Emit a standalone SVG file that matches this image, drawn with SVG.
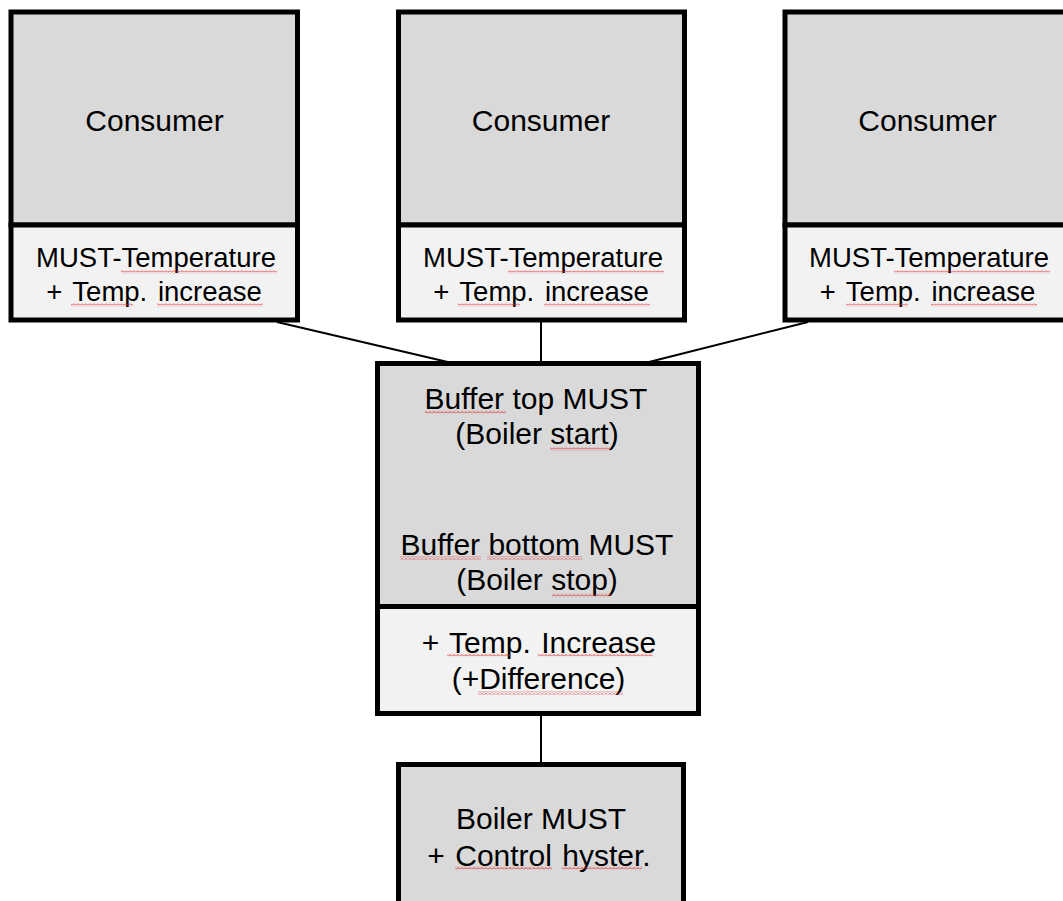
<svg xmlns="http://www.w3.org/2000/svg" width="1063" height="901" viewBox="0 0 1063 901">
<defs>
<pattern id="sq" x="0" y="0" width="4" height="3" patternUnits="userSpaceOnUse">
<polyline points="0,2.5 2,0.5 4,2.5" fill="none" stroke="#e02020" stroke-width="0.9"/>
</pattern>
<style>
.box{stroke:#000;stroke-width:5;stroke-linejoin:miter}
.top{fill:#d9d9d9}
.bot{fill:#f2f2f2}
.t{font-family:"Liberation Sans",Arial,sans-serif;fill:#000;text-anchor:middle}
.big{font-size:30px}
.sm{font-size:27.5px}
.ws{word-spacing:3px}
.con{stroke:#000;stroke-width:2;fill:none}
.s{fill:url(#sq)}
</style>
</defs>
<rect width="1063" height="901" fill="#fff"/>
<g id="connectors">
<line class="con" x1="277" y1="322" x2="452" y2="363"/>
<line class="con" x1="541" y1="322" x2="541" y2="363"/>
<line class="con" x1="808" y1="322" x2="645" y2="363"/>
<line class="con" x1="541" y1="714" x2="541" y2="764"/>
</g>
<g id="consumer1">
<rect class="box top" x="11" y="12" width="286.5" height="213"/>
<rect class="box bot" x="11" y="225" width="286.5" height="95"/>
<text class="t big" x="154.5" y="131">Consumer</text>
<text class="t sm" x="156" y="267">MUST-Temperature</text>
<text class="t sm ws" x="154" y="301">+ Temp. increase</text>
<rect class="s" x="121" y="270.5" width="156" height="3"/>
<rect class="s" x="71" y="303.5" width="62" height="3"/>
<rect class="s" x="157" y="303.5" width="106" height="3"/>
</g>
<g id="consumer2">
<rect class="box top" x="398.5" y="12" width="286" height="213"/>
<rect class="box bot" x="398.5" y="225" width="286" height="95"/>
<text class="t big" x="541" y="131">Consumer</text>
<text class="t sm" x="543" y="267">MUST-Temperature</text>
<text class="t sm ws" x="541" y="301">+ Temp. increase</text>
<rect class="s" x="508" y="270.5" width="156" height="3"/>
<rect class="s" x="458" y="303.5" width="62" height="3"/>
<rect class="s" x="544" y="303.5" width="106" height="3"/>
</g>
<g id="consumer3">
<rect class="box top" x="785" y="12" width="286" height="213"/>
<rect class="box bot" x="785" y="225" width="286" height="95"/>
<text class="t big" x="927.5" y="131">Consumer</text>
<text class="t sm" x="929" y="267">MUST-Temperature</text>
<text class="t sm ws" x="927.5" y="301">+ Temp. increase</text>
<rect class="s" x="894" y="270.5" width="156" height="3"/>
<rect class="s" x="846" y="303.5" width="62" height="3"/>
<rect class="s" x="931" y="303.5" width="106" height="3"/>
</g>
<g id="buffer">
<rect class="box top" x="377.5" y="363.5" width="321" height="243"/>
<rect class="box bot" x="377.5" y="606.5" width="321" height="107"/>
<text class="t big" x="536" y="409">Buffer top MUST</text>
<text class="t big" x="537" y="444">(Boiler start)</text>
<text class="t big" x="537" y="555">Buffer bottom MUST</text>
<text class="t big" x="537" y="590">(Boiler stop)</text>
<text class="t big" x="539" y="653" word-spacing="2">+ Temp. Increase</text>
<text class="t big" x="538.5" y="689">(+Difference)</text>
<rect class="s" x="425" y="410.5" width="81" height="3"/>
<rect class="s" x="550" y="447.5" width="60" height="3"/>
<rect class="s" x="400" y="556.5" width="81" height="3"/>
<rect class="s" x="487" y="556.5" width="95" height="3"/>
<rect class="s" x="552" y="593.5" width="60" height="3"/>
<rect class="s" x="447" y="653.5" width="63" height="3"/>
<rect class="s" x="538" y="653.5" width="115" height="3"/>
<rect class="s" x="478" y="691.5" width="145" height="3"/>
</g>
<g id="boiler">
<rect class="box top" x="398.5" y="764.5" width="285" height="160"/>
<text class="t big" x="541" y="829">Boiler MUST</text>
<text class="t big" x="539" y="866" word-spacing="2">+ Control hyster.</text>
<rect class="s" x="455" y="866.5" width="97" height="3"/>
<rect class="s" x="562" y="866.5" width="80" height="3"/>
</g>
</svg>
